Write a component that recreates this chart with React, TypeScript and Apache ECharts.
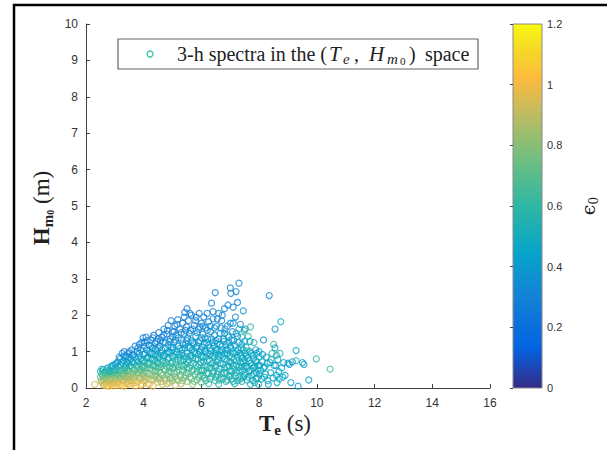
import React, { useEffect, useRef } from "react";
import * as echarts from "echarts";

// Axis ranges / ticks
const xMin = 2, xMax = 16, xStep = 2;
const yMin = 0, yMax = 10, yStep = 1;
const cMin = 0, cMax = 1.2, cStep = 0.2;

const legendLabel = "3-h spectra in the (Te, Hm0) space";

// [Te (s), Hm0 (m), eps0], grouped by Te band
const bandA: [number, number, number][] = [
  [2.3,0.10,0.95],[2.5,0.45,0.55],[2.5,0.30,0.7],[2.55,0.15,0.9],[2.55,0.38,0.62],[2.6,0.50,0.5],[2.6,0.22,0.85],[2.62,0.08,1.0],[2.65,0.32,0.72],[2.7,0.42,0.58],[2.7,0.12,0.95],[2.72,0.25,0.82],[2.75,0.55,0.45],[2.78,0.35,0.7],[2.8,0.05,1.05],[2.8,0.18,0.92],[2.82,0.46,0.55],[2.85,0.28,0.8],[2.88,0.60,0.42],[2.9,0.10,0.98],[2.9,0.38,0.66],[2.92,0.22,0.88],[2.95,0.50,0.52],[2.95,0.06,1.02],[2.98,0.32,0.75],[3.0,0.65,0.4],[3.0,0.15,0.95],[3.0,0.44,0.6],
  [2.52,0.20,0.82],[2.55,0.52,0.5],[2.58,0.35,0.66],[2.6,0.10,0.95],[2.62,0.42,0.6],[2.65,0.18,0.9],[2.68,0.28,0.78],[2.7,0.50,0.52],[2.73,0.06,1.0],[2.75,0.38,0.64],[2.78,0.22,0.86],[2.8,0.48,0.55],[2.83,0.12,0.96],[2.85,0.40,0.62],[2.87,0.55,0.5],[2.9,0.25,0.84],[2.93,0.62,0.45],[2.95,0.15,0.94],[2.97,0.42,0.6],[3.0,0.30,0.78],
];
const bandB: [number, number, number][] = [
  [3.05,0.26,0.85],[3.05,0.55,0.5],[3.08,0.08,1.0],[3.1,0.72,0.38],[3.1,0.36,0.72],[3.12,0.18,0.92],[3.15,0.48,0.6],[3.15,0.85,0.33],[3.18,0.28,0.82],[3.2,0.62,0.48],[3.2,0.10,0.98],[3.22,0.40,0.68],[3.25,0.95,0.3],[3.25,0.20,0.9],[3.28,0.52,0.58],[3.3,0.75,0.4],[3.3,0.32,0.78],[3.32,1.0,0.3],[3.32,0.05,1.0],[3.35,0.44,0.66],[3.38,0.62,0.5],[3.38,0.15,0.95],[3.4,0.88,0.34],[3.4,0.25,0.85],[3.42,0.52,0.6],[3.45,0.70,0.45],[3.45,0.36,0.75],[3.48,0.10,0.98],[3.48,0.95,0.32],[3.5,0.45,0.68],[3.5,0.20,0.9],[3.5,0.60,0.55],
  [3.02,0.50,0.55],[3.05,0.68,0.42],[3.08,0.40,0.66],[3.1,0.15,0.95],[3.12,0.60,0.5],[3.15,0.30,0.8],[3.18,0.80,0.36],[3.2,0.48,0.62],[3.22,0.06,1.02],[3.25,0.70,0.44],[3.28,0.38,0.72],[3.3,0.22,0.9],[3.32,0.88,0.34],[3.35,0.56,0.56],[3.38,0.30,0.82],[3.4,0.72,0.44],[3.42,0.12,0.98],[3.45,0.48,0.64],[3.45,0.82,0.38],[3.48,0.30,0.84],[3.5,0.75,0.42],[3.5,1.0,0.3],
];
const bandC: [number, number, number][] = [
  [3.55,0.80,0.4],[3.55,0.30,0.85],[3.58,1.05,0.3],[3.6,0.55,0.62],[3.6,0.12,1.0],[3.62,0.40,0.78],[3.65,0.92,0.36],[3.65,0.68,0.5],[3.68,0.22,0.92],[3.7,1.15,0.3],[3.7,0.48,0.7],[3.72,0.06,1.02],[3.75,0.78,0.45],[3.75,0.35,0.82],[3.78,1.0,0.33],[3.8,0.58,0.6],[3.8,0.18,0.95],[3.82,0.85,0.42],[3.85,1.2,0.28],[3.85,0.42,0.75],[3.88,0.65,0.56],[3.9,0.28,0.88],[3.9,1.05,0.34],[3.92,0.50,0.68],[3.95,0.75,0.5],[3.95,0.10,0.98],[3.98,1.38,0.27],[3.98,0.35,0.8],[4.0,0.92,0.4],[4.0,0.60,0.6],[4.0,0.20,0.9],
  [3.52,0.38,0.8],[3.55,0.62,0.55],[3.58,0.20,0.94],[3.6,0.90,0.36],[3.62,0.72,0.48],[3.65,0.30,0.86],[3.68,0.52,0.66],[3.7,0.85,0.4],[3.72,0.15,0.97],[3.75,0.62,0.56],[3.78,0.42,0.74],[3.8,1.10,0.3],[3.8,0.72,0.5],[3.83,0.28,0.86],[3.85,0.95,0.36],[3.88,0.50,0.7],[3.9,0.80,0.46],[3.9,0.08,1.0],[3.93,1.25,0.29],[3.95,0.58,0.62],[3.97,0.40,0.78],[4.0,1.15,0.32],[4.0,0.75,0.5],[4.0,0.30,0.86],
];
const bandD: [number, number, number][] = [
  [4.02,1.25,0.3],[4.05,0.45,0.72],[4.05,0.72,0.55],[4.08,1.4,0.27],[4.1,0.30,0.82],[4.1,1.05,0.38],[4.12,0.55,0.66],[4.15,0.85,0.46],[4.15,0.12,0.95],[4.18,1.18,0.33],[4.2,0.38,0.78],[4.2,0.68,0.58],[4.22,0.95,0.42],[4.25,1.32,0.3],[4.25,0.22,0.88],[4.28,0.50,0.7],[4.3,0.78,0.52],[4.3,1.1,0.36],[4.32,0.05,1.0],[4.35,0.62,0.62],[4.35,1.45,0.28],[4.38,0.32,0.8],[4.4,0.88,0.45],[4.4,1.22,0.32],[4.42,0.45,0.72],[4.45,0.70,0.58],[4.45,1.02,0.4],[4.48,0.16,0.92],[4.5,1.35,0.3],[4.5,0.55,0.66],[4.5,0.82,0.5],
  [4.02,0.55,0.64],[4.05,0.95,0.4],[4.08,0.22,0.9],[4.1,0.82,0.48],[4.12,1.30,0.3],[4.15,0.40,0.76],[4.15,0.65,0.6],[4.18,1.0,0.4],[4.2,0.10,0.96],[4.22,0.55,0.66],[4.25,0.82,0.5],[4.25,1.15,0.35],[4.28,0.35,0.8],[4.3,0.95,0.44],[4.3,0.62,0.6],[4.32,1.38,0.29],[4.35,0.25,0.86],[4.38,0.78,0.52],[4.4,0.48,0.7],[4.4,1.08,0.38],[4.42,0.60,0.62],[4.45,0.35,0.78],[4.45,1.28,0.32],[4.48,0.90,0.46],[4.5,0.68,0.56],[4.5,0.25,0.84],[4.5,1.10,0.38],
];
const bandE: [number, number, number][] = [
  [4.52,1.52,0.28],[4.55,0.28,0.82],[4.55,1.15,0.36],[4.58,0.65,0.6],[4.6,0.95,0.44],[4.6,0.40,0.74],[4.62,1.40,0.3],[4.65,0.10,0.95],[4.65,0.75,0.56],[4.68,1.25,0.34],[4.7,0.52,0.68],[4.7,1.62,0.28],[4.72,0.88,0.48],[4.75,0.22,0.85],[4.75,1.08,0.4],[4.78,0.60,0.62],[4.8,1.48,0.3],[4.8,0.35,0.76],[4.82,0.80,0.52],[4.85,1.72,0.27],[4.85,1.18,0.38],[4.88,0.45,0.7],[4.9,0.98,0.44],[4.9,0.15,0.9],[4.92,1.35,0.33],[4.95,0.68,0.6],[4.95,1.85,0.27],[4.98,0.28,0.78],[5.0,1.05,0.42],[5.0,0.55,0.66],[5.0,1.55,0.3],
  [4.52,0.45,0.72],[4.55,0.85,0.5],[4.58,1.30,0.32],[4.6,0.18,0.88],[4.6,0.58,0.64],[4.62,1.05,0.42],[4.65,0.35,0.78],[4.68,0.88,0.48],[4.7,1.45,0.3],[4.7,0.68,0.58],[4.72,0.28,0.82],[4.75,1.25,0.36],[4.75,0.50,0.68],[4.78,0.95,0.44],[4.8,0.12,0.9],[4.8,0.70,0.56],[4.82,1.58,0.3],[4.85,0.40,0.72],[4.85,1.0,0.42],[4.88,0.82,0.5],[4.9,1.28,0.35],[4.9,0.58,0.62],[4.92,0.25,0.8],[4.95,1.12,0.4],[4.95,0.45,0.7],[4.98,0.88,0.48],[5.0,1.40,0.32],[5.0,0.20,0.82],[5.0,0.72,0.55],
];
const bandF: [number, number, number][] = [
  [5.02,0.85,0.5],[5.05,1.25,0.36],[5.05,0.40,0.72],[5.08,1.70,0.3],[5.1,0.08,0.92],[5.1,0.70,0.56],[5.12,1.45,0.33],[5.15,1.0,0.44],[5.15,0.25,0.8],[5.18,1.88,0.28],[5.2,0.58,0.62],[5.2,1.15,0.4],[5.22,0.92,0.48],[5.25,1.62,0.31],[5.25,0.35,0.74],[5.28,0.75,0.54],[5.3,1.32,0.36],[5.3,0.12,0.88],[5.32,1.05,0.44],[5.35,0.50,0.66],[5.35,1.78,0.29],[5.38,0.88,0.5],[5.4,1.48,0.33],[5.4,0.28,0.76],[5.42,2.08,0.27],[5.45,0.65,0.58],[5.45,1.20,0.4],[5.48,0.42,0.7],[5.48,1.68,0.31],[5.5,0.95,0.46],[5.5,2.18,0.27],[5.5,0.18,0.82],
  [5.02,1.12,0.4],[5.05,0.55,0.64],[5.05,1.55,0.3],[5.08,0.30,0.76],[5.1,0.92,0.46],[5.1,1.32,0.35],[5.12,0.62,0.6],[5.15,0.45,0.7],[5.15,1.75,0.29],[5.18,0.78,0.52],[5.2,0.20,0.82],[5.2,1.38,0.34],[5.22,0.50,0.66],[5.25,1.08,0.42],[5.25,0.85,0.5],[5.28,0.30,0.76],[5.3,1.52,0.32],[5.3,0.62,0.6],[5.32,0.95,0.46],[5.35,1.22,0.38],[5.35,0.20,0.8],[5.38,0.60,0.6],[5.4,1.95,0.28],[5.4,0.78,0.52],[5.42,1.10,0.42],[5.45,0.35,0.72],[5.45,1.58,0.33],[5.48,0.85,0.48],[5.5,0.55,0.62],[5.5,1.30,0.37],
];
const bandG: [number, number, number][] = [
  [5.52,1.38,0.35],[5.55,0.78,0.52],[5.55,1.85,0.3],[5.58,0.55,0.62],[5.6,1.10,0.42],[5.6,0.30,0.72],[5.62,1.58,0.33],[5.65,0.88,0.48],[5.65,2.0,0.28],[5.68,0.45,0.66],[5.7,1.25,0.38],[5.7,0.10,0.8],[5.72,0.68,0.55],[5.75,1.72,0.31],[5.75,1.0,0.44],[5.78,0.38,0.68],[5.8,1.42,0.36],[5.8,0.80,0.5],[5.82,1.95,0.29],[5.85,0.22,0.74],[5.85,1.15,0.4],[5.88,0.58,0.58],[5.9,1.62,0.33],[5.9,0.92,0.46],[5.92,2.05,0.28],[5.95,0.35,0.64],[5.95,1.30,0.38],[5.98,0.70,0.52],[6.0,1.78,0.31],[6.0,0.15,0.7],[6.0,1.05,0.42],
  [5.52,0.70,0.54],[5.55,1.12,0.42],[5.55,0.40,0.68],[5.58,1.50,0.34],[5.6,0.88,0.48],[5.6,2.05,0.28],[5.62,0.62,0.58],[5.65,1.30,0.38],[5.65,0.25,0.74],[5.68,1.05,0.44],[5.7,0.82,0.5],[5.7,1.62,0.33],[5.72,0.50,0.64],[5.75,1.22,0.4],[5.75,0.18,0.76],[5.78,0.95,0.46],[5.8,0.62,0.58],[5.8,1.85,0.3],[5.82,1.10,0.42],[5.85,0.45,0.64],[5.85,1.52,0.35],[5.88,0.80,0.5],[5.9,0.30,0.68],[5.9,1.25,0.4],[5.92,0.65,0.56],[5.95,1.0,0.44],[5.95,1.68,0.33],[5.98,0.48,0.6],[6.0,0.88,0.48],[6.0,1.38,0.37],
];
const bandH: [number, number, number][] = [
  [6.02,0.48,0.56],[6.05,1.48,0.35],[6.05,0.85,0.48],[6.08,1.95,0.3],[6.1,0.28,0.62],[6.1,1.20,0.4],[6.12,0.62,0.52],[6.15,1.65,0.33],[6.15,1.0,0.44],[6.18,0.40,0.58],[6.2,2.05,0.29],[6.2,0.75,0.5],[6.22,1.35,0.38],[6.25,0.12,0.62],[6.25,1.82,0.31],[6.28,0.55,0.54],[6.3,1.10,0.42],[6.3,0.92,0.46],[6.32,1.55,0.35],[6.35,0.32,0.6],[6.35,2.33,0.3],[6.38,0.68,0.5],[6.4,1.25,0.4],[6.4,1.90,0.32],[6.42,0.45,0.56],[6.45,0.85,0.47],[6.45,1.45,0.36],[6.48,0.20,0.6],[6.48,2.62,0.3],[6.5,1.05,0.43],[6.5,0.60,0.52],
  [6.02,1.12,0.42],[6.05,0.35,0.62],[6.05,1.70,0.33],[6.08,0.72,0.5],[6.1,1.02,0.44],[6.1,0.50,0.58],[6.12,1.38,0.37],[6.15,0.20,0.64],[6.15,0.85,0.48],[6.18,1.25,0.4],[6.2,0.58,0.55],[6.2,1.58,0.35],[6.22,0.95,0.46],[6.25,0.40,0.58],[6.25,1.18,0.42],[6.28,0.78,0.5],[6.3,1.70,0.34],[6.3,0.25,0.6],[6.32,1.02,0.44],[6.35,0.55,0.54],[6.35,1.35,0.38],[6.38,0.88,0.48],[6.4,0.40,0.56],[6.4,2.10,0.31],[6.42,1.15,0.42],[6.45,0.62,0.52],[6.45,1.65,0.35],[6.48,0.95,0.46],[6.5,0.30,0.58],[6.5,1.30,0.4],
];
const bandI: [number, number, number][] = [
  [6.52,1.70,0.34],[6.55,0.38,0.55],[6.55,1.22,0.4],[6.58,0.78,0.48],[6.6,2.05,0.31],[6.6,0.10,0.58],[6.62,1.0,0.44],[6.65,0.52,0.52],[6.65,1.50,0.36],[6.68,0.28,0.56],[6.7,1.85,0.33],[6.7,0.90,0.46],[6.72,1.15,0.55],[6.75,0.65,0.5],[6.75,1.35,0.38],[6.78,0.42,0.54],[6.8,2.18,0.32],[6.8,0.80,0.47],[6.82,1.62,0.35],[6.85,0.18,0.56],[6.85,1.05,0.43],[6.88,0.58,0.5],[6.9,1.45,0.6],[6.9,0.95,0.46],[6.92,2.28,0.31],[6.95,0.32,0.54],[6.95,1.25,0.4],[6.98,0.72,0.48],[7.0,1.78,0.34],[7.0,0.48,0.52],[7.0,2.75,0.32],
  [6.52,0.72,0.5],[6.55,1.05,0.44],[6.55,1.90,0.32],[6.58,0.45,0.55],[6.6,1.35,0.38],[6.6,0.88,0.48],[6.62,0.22,0.58],[6.65,1.20,0.42],[6.65,0.68,0.5],[6.68,1.65,0.35],[6.7,0.40,0.55],[6.7,1.05,0.44],[6.72,2.0,0.32],[6.75,0.85,0.48],[6.75,0.25,0.56],[6.78,1.28,0.4],[6.8,0.55,0.52],[6.8,1.50,0.37],[6.82,0.95,0.46],[6.85,0.40,0.54],[6.85,1.18,0.42],[6.88,0.75,0.5],[6.9,1.70,0.35],[6.9,0.22,0.56],[6.92,1.05,0.44],[6.95,0.60,0.52],[6.95,1.40,0.38],[6.98,0.88,0.48],[7.0,0.35,0.54],[7.0,1.15,0.42],
];
const bandJ: [number, number, number][] = [
  [7.02,2.60,0.32],[7.02,1.10,0.42],[7.05,0.25,0.54],[7.05,0.85,0.46],[7.08,1.55,0.36],[7.1,2.22,0.33],[7.1,0.62,0.5],[7.12,1.30,0.4],[7.15,0.12,0.52],[7.15,0.95,0.58],[7.18,1.95,0.34],[7.2,0.42,0.52],[7.2,2.65,0.32],[7.22,0.75,0.47],[7.25,1.42,0.38],[7.25,2.35,0.33],[7.28,1.05,0.44],[7.3,0.30,0.54],[7.3,2.88,0.33],[7.32,0.58,0.5],[7.35,1.75,0.35],[7.38,0.88,0.46],[7.4,1.20,0.42],[7.4,0.18,0.52],[7.42,0.48,0.5],[7.45,2.12,0.36],[7.45,0.70,0.48],[7.48,1.58,0.62],[7.5,0.95,0.45],[7.5,0.35,0.52],
  [7.02,0.70,0.48],[7.05,1.32,0.4],[7.05,0.45,0.52],[7.08,0.95,0.46],[7.1,1.78,0.35],[7.1,0.18,0.54],[7.12,0.78,0.5],[7.15,1.18,0.42],[7.15,0.52,0.52],[7.18,0.32,0.54],[7.2,1.0,0.45],[7.2,1.50,0.38],[7.22,0.62,0.5],[7.25,0.85,0.48],[7.25,0.20,0.52],[7.28,1.25,0.42],[7.3,0.48,0.5],[7.3,1.62,0.56],[7.32,0.95,0.46],[7.35,0.70,0.48],[7.35,0.25,0.52],[7.38,1.10,0.44],[7.4,0.58,0.5],[7.4,1.40,0.55],[7.42,0.82,0.47],[7.45,0.30,0.52],[7.45,1.05,0.45],[7.48,0.60,0.49],[7.5,1.28,0.42],[7.5,0.78,0.47],
];
const bandK: [number, number, number][] = [
  [7.52,1.62,0.36],[7.55,0.60,0.48],[7.55,1.12,0.55],[7.58,0.22,0.5],[7.6,0.82,0.46],[7.62,1.42,0.6],[7.65,0.45,0.5],[7.68,1.0,0.44],[7.7,1.68,0.62],[7.7,0.10,0.52],[7.72,0.68,0.47],[7.75,0.35,0.5],[7.78,0.90,0.45],[7.8,0.55,0.48],[7.82,1.25,0.58],[7.85,0.15,0.5],[7.88,0.75,0.46],[7.9,0.42,0.49],[7.92,0.95,0.44],[7.95,0.28,0.5],[7.98,0.62,0.47],[8.0,0.85,0.45],[8.0,1.0,0.42],
  [7.52,0.40,0.5],[7.55,0.88,0.46],[7.58,1.02,0.56],[7.6,0.55,0.48],[7.62,0.30,0.5],[7.65,0.75,0.47],[7.68,1.28,0.42],[7.7,0.48,0.49],[7.72,0.95,0.45],[7.75,0.62,0.48],[7.78,0.20,0.5],[7.8,0.80,0.46],[7.82,0.40,0.49],[7.85,0.60,0.47],[7.88,1.05,0.44],[7.9,0.25,0.5],[7.92,0.72,0.46],[7.95,0.50,0.48],[7.98,0.10,0.5],[8.0,0.38,0.48],
];
const bandL: [number, number, number][] = [
  [8.05,0.48,0.46],[8.1,0.72,0.5],[8.15,1.32,0.34],[8.18,0.30,0.46],[8.2,0.58,0.44],[8.25,0.85,0.42],[8.3,0.20,0.46],[8.35,2.54,0.34],[8.38,0.70,0.5],[8.4,0.42,0.45],[8.45,0.95,0.55],[8.5,1.20,0.6],[8.52,0.62,0.44],[8.55,1.10,0.45],[8.55,1.62,0.4],[8.6,0.90,0.58],[8.6,0.35,0.45],[8.65,0.78,0.42],[8.7,0.25,0.46],[8.75,1.82,0.5],[8.78,0.55,0.44],[8.85,0.70,0.43],[8.9,0.35,0.46],
  [8.02,0.62,0.46],[8.08,0.25,0.47],[8.12,0.92,0.44],[8.15,0.55,0.46],[8.22,0.38,0.46],[8.28,0.68,0.45],[8.32,0.10,0.46],[8.42,0.78,0.5],[8.48,0.28,0.46],[8.58,0.62,0.44],[8.62,0.15,0.44],[8.68,0.45,0.44],[8.72,0.95,0.56],[8.82,0.30,0.45],
];
const bandM: [number, number, number][] = [
  [9.0,0.68,0.44],[9.05,0.65,0.42],[9.1,0.15,0.42],[9.15,0.72,0.4],[9.28,1.03,0.44],[9.28,0.75,0.58],[9.35,0.05,0.42],[9.5,0.70,0.42],[9.55,0.65,0.44],[9.72,0.22,0.44],[9.98,0.80,0.6],[10.46,0.52,0.64],
];

const spectra = [...bandA, ...bandB, ...bandC, ...bandD, ...bandE, ...bandF, ...bandG, ...bandH, ...bandI, ...bandJ, ...bandK, ...bandL, ...bandM];

// parula colormap stops
const PARULA: [number, string][] = [
  [0.0, "#352a87"], [0.11, "#0363e1"], [0.25, "#1481d6"], [0.37, "#06a4ca"],
  [0.5, "#2eb7a4"], [0.63, "#70bf80"], [0.76, "#c4bb5e"], [0.85, "#fdbb3e"],
  [0.94, "#f5dc24"], [1.0, "#f9fb0e"],
];
function hexRgb(h: string) {
  return [parseInt(h.slice(1, 3), 16), parseInt(h.slice(3, 5), 16), parseInt(h.slice(5, 7), 16)];
}
function parula(t: number) {
  t = Math.max(0, Math.min(1, t));
  for (let i = 1; i < PARULA.length; i++) {
    if (t <= PARULA[i][0]) {
      const [t0, c0] = PARULA[i - 1];
      const [t1, c1] = PARULA[i];
      const f = (t - t0) / (t1 - t0);
      const a = hexRgb(c0), b = hexRgb(c1);
      const r = a.map((v, k) => Math.round(v + (b[k] - v) * f));
      return `rgb(${r[0]},${r[1]},${r[2]})`;
    }
  }
  return PARULA[PARULA.length - 1][1];
}

const SERIF = "'Liberation Serif', 'DejaVu Serif', serif";
const SANS = "'Liberation Sans', Arial, sans-serif";

export default function App() {
  const ref = useRef<HTMLDivElement>(null);
  useEffect(() => {
    const chart = echarts.init(ref.current!, undefined, { renderer: "svg" });
    const data = spectra.map(([te, h, e]) => ({
      value: [te, h, e],
      itemStyle: { color: "rgba(0,0,0,0)", borderColor: parula((e - cMin) / (cMax - cMin)), borderWidth: 1.2 },
    }));
    chart.setOption({
      animation: false,
      backgroundColor: "#fff",
      grid: [
        { left: 86, top: 24, width: 404, height: 364, containLabel: false },
        { left: 513, top: 24, width: 29, height: 364, containLabel: false },
      ],
      xAxis: [
        {
          gridIndex: 0, type: "value", min: xMin, max: xMax, interval: xStep,
          axisLine: { show: true, lineStyle: { color: "#404040", width: 1 } },
          axisTick: { show: true, inside: true, length: 4, lineStyle: { color: "#404040" } },
          axisLabel: { color: "#333", fontSize: 12, fontFamily: SANS, margin: 9 },
          splitLine: { show: false },
        },
        { gridIndex: 1, type: "value", min: 0, max: 1, show: false },
      ],
      yAxis: [
        {
          gridIndex: 0, type: "value", min: yMin, max: yMax, interval: yStep,
          axisLine: { show: true, lineStyle: { color: "#404040", width: 1 } },
          axisTick: { show: true, inside: true, length: 4, lineStyle: { color: "#404040" } },
          axisLabel: { color: "#333", fontSize: 12, fontFamily: SANS, margin: 8 },
          splitLine: { show: false },
        },
        {
          gridIndex: 1, type: "value", min: cMin, max: cMax, interval: cStep, position: "right", z: 10,
          axisLine: { show: false },
          axisTick: { show: true, inside: true, length: 3, lineStyle: { color: "#444" } },
          axisLabel: {
            color: "#333", fontSize: 11, fontFamily: SANS, margin: 5,
            formatter: (v: number) => String(+v.toFixed(1)),
          },
          splitLine: { show: false },
        },
      ],
      series: [
        {
          name: legendLabel,
          type: "scatter",
          xAxisIndex: 0, yAxisIndex: 0,
          symbol: "circle",
          symbolSize: 6,
          silent: true,
          data,
        },
      ],
      graphic: [
        // page frame
        { type: "line", shape: { x1: 14, y1: 4, x2: 14, y2: 450 }, style: { stroke: "#000", lineWidth: 2.5 } },
        { type: "line", shape: { x1: 13, y1: 5, x2: 607, y2: 5 }, style: { stroke: "#000", lineWidth: 2.5 } },
        // colorbar
        {
          type: "rect", z: 0,
          shape: { x: 513, y: 24, width: 29, height: 364 },
          style: {
            fill: {
              type: "linear", x: 0, y: 1, x2: 0, y2: 0,
              colorStops: PARULA.map(([o, c]) => ({ offset: o, color: c })),
            },
            stroke: "#8a8a8a", lineWidth: 1,
          },
        },
        {
          type: "text", x: 588, y: 206, rotation: Math.PI / 2,
          style: {
            text: "{e|ϵ}{s|0}",
            align: "center", verticalAlign: "middle",
            rich: {
              e: { fontFamily: "'DejaVu Serif', serif", fontSize: 19, fill: "#222", lineHeight: 24 },
              s: { fontFamily: "'DejaVu Serif', serif", fontSize: 12, fill: "#222", lineHeight: 12, verticalAlign: "bottom" },
            },
          },
        },
        // legend
        {
          type: "rect", shape: { x: 118, y: 39, width: 360, height: 30 },
          style: { fill: "#fff", stroke: "#666", lineWidth: 1.2 },
        },
        {
          type: "circle", shape: { cx: 150, cy: 54, r: 3 },
          style: { fill: "none", stroke: "#3cc0a5", lineWidth: 1.3 },
        },
        {
          type: "text", x: 177, y: 54,
          style: {
            text: "{n|3-h spectra in the (}{T|T}{e|e}{c|,}{H|H}{m|m}{z|0}{p|)}{n|space}",
            align: "left", verticalAlign: "middle",
            rich: {
              n: { fontFamily: SERIF, fontSize: 20, fill: "#222", lineHeight: 24 },
              T: { fontFamily: SERIF, fontSize: 21, fontStyle: "italic", fill: "#222", lineHeight: 24, width: 14, padding: [0, 0, 0, 2] },
              e: { fontFamily: SERIF, fontSize: 15, fontStyle: "italic", fill: "#222", lineHeight: 14, verticalAlign: "bottom", width: 11 },
              c: { fontFamily: SERIF, fontSize: 20, fill: "#222", lineHeight: 24, width: 15 },
              H: { fontFamily: SERIF, fontSize: 21, fontStyle: "italic", fill: "#222", lineHeight: 24, width: 18 },
              m: { fontFamily: SERIF, fontSize: 15, fontStyle: "italic", fill: "#222", lineHeight: 14, verticalAlign: "bottom", width: 13 },
              z: { fontFamily: SERIF, fontSize: 11, fill: "#222", lineHeight: 8, verticalAlign: "bottom", width: 9 },
              p: { fontFamily: SERIF, fontSize: 20, fill: "#222", lineHeight: 24, width: 16 },
            },
          },
        },
        // x axis title
        {
          type: "text", x: 285, y: 423,
          style: {
            text: "{b|T}{bs|e}{n| (s)}",
            align: "center", verticalAlign: "middle",
            rich: {
              b: { fontFamily: SERIF, fontSize: 23, fontWeight: "bold", fill: "#222", lineHeight: 28 },
              bs: { fontFamily: SERIF, fontSize: 15, fontWeight: "bold", fill: "#222", lineHeight: 18, verticalAlign: "bottom" },
              n: { fontFamily: SERIF, fontSize: 23, fill: "#222", lineHeight: 28 },
            },
          },
        },
        // y axis title
        {
          type: "text", x: 41, y: 208, rotation: Math.PI / 2,
          style: {
            text: "{b|H}{bs|m}{bss|0}{n| (m)}",
            align: "center", verticalAlign: "middle",
            rich: {
              b: { fontFamily: SERIF, fontSize: 23, fontWeight: "bold", fill: "#222", lineHeight: 28 },
              bs: { fontFamily: SERIF, fontSize: 15, fontWeight: "bold", fill: "#222", lineHeight: 18, verticalAlign: "bottom" },
              bss: { fontFamily: SERIF, fontSize: 10, fontWeight: "bold", fill: "#222", lineHeight: 10, verticalAlign: "bottom" },
              n: { fontFamily: SERIF, fontSize: 23, fill: "#222", lineHeight: 28 },
            },
          },
        },
      ],
    });
    return () => chart.dispose();
  }, []);
  return <div ref={ref} style={{ position: "absolute", left: 0, top: 0, width: 607, height: 450 }} />;
}
